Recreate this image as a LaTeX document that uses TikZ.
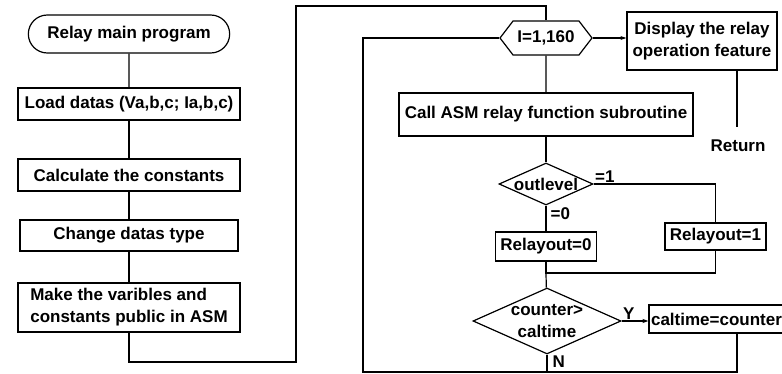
\documentclass[tikz,border=0pt]{standalone}
\usepackage{fontspec}
\setmainfont{Liberation Sans}
\usetikzlibrary{shapes.geometric,shapes.misc,shapes.symbols,arrows.meta}

\begin{document}
\begin{tikzpicture}[x=1pt,y=-1pt,line width=1.2pt,font=\fontsize{17}{22}\selectfont\bfseries]
  \tikzstyle{box}=[draw,rectangle,inner sep=2pt,align=center]
  \tikzstyle{leftbox}=[box,minimum width=222pt,minimum height=32pt]
  \tikzstyle{terminal}=[draw,rounded rectangle,minimum width=208pt,minimum height=38pt]
  \tikzstyle{decision}=[draw,diamond,aspect=2.24,inner sep=0pt,align=center]
  \tikzstyle{loophead}=[draw,signal,signal to=east and west,signal pointer angle=105,minimum width=92pt,minimum height=34pt,inner sep=0pt]
  \tikzstyle{tag}=[inner sep=1pt]
  \tikzstyle{arrow}=[-{Stealth[length=6pt,width=4pt]}]

  \useasboundingbox (0,0) rectangle (782,374);

  \node[terminal] (start) at (129,34) {Relay main program};
  \node[leftbox] (load) at (129,104) {Load datas (Va,b,c; Ia,b,c)};
  \node[leftbox] (calc) at (129,175) {Calculate the constants};
  \node[leftbox,minimum width=218pt,minimum height=31pt] (change) at (129,235.5) {Change datas type};
  \node[leftbox,align=left,minimum height=49pt] (make) at (129,307.5) {Make the varibles and\\constants public in ASM};

  \node[loophead] (hex) at (546,38) {I=1,160};
  \node[box,minimum width=150pt,minimum height=58pt] (display) at (702,41) {Display the relay\\operation feature};
  \node[tag] (return) at (738,146) {Return};
  \node[box,minimum width=294pt,minimum height=43pt] (call) at (546,114.5) {Call ASM relay function subroutine};
  \node[decision,minimum width=94pt,minimum height=42pt] (outlevel) at (546,184) {outlevel};
  \node[box,minimum width=101pt,minimum height=29pt] (relay0) at (546,246.5) {Relayout=0};
  \node[box,minimum width=101pt,minimum height=27pt] (relay1) at (715.5,236.5) {Relayout=1};
  \node[decision,minimum width=148pt,minimum height=66pt] (counter) at (547,321) {counter>\\caltime};
  \node[box,minimum width=129pt,minimum height=28pt] (caltime) at (716.5,319) {caltime=counter};

  \node[tag,anchor=south west] (one) at (outlevel.east) {=1};
  \node[tag,anchor=north west,xshift=3pt] (zero) at (outlevel.south) {=0};
  \node[tag,anchor=south west] (yes) at (counter.east) {Y};
  \node[tag,anchor=north west,xshift=4pt] (no) at (counter.south) {N};

  \coordinate (outer-bl) at (296,362);
  \coordinate (outer-tl) at (296,6);
  \coordinate (inner-bl) at (363,372);
  \coordinate (inner-br) at (737,372);
  \coordinate (merge) at (546,273);
  \coordinate (return-top) at (737,127);

  \foreach \from/\to in {start/load, load/calc, calc/change, change/make, hex/call, call/outlevel, outlevel/relay0, merge/counter}
    \draw (\from) -- (\to);

  \draw (make) |- (outer-bl) -- (outer-tl) -| (hex);
  \draw (inner-br |- caltime.south) -- (inner-br) -- (inner-bl) |- (hex);
  \draw (counter) -- (counter |- inner-bl);
  \draw (outlevel) -| (relay1);
  \draw (relay0) -- (merge) -| (relay1);
  \draw[arrow] (hex.east) -- (hex.east -| display.west);
  \draw[arrow] (counter.east) -- (counter.east -| caltime.west);
  \draw (return-top |- display.south) -- (return-top);
\end{tikzpicture}
\end{document}
